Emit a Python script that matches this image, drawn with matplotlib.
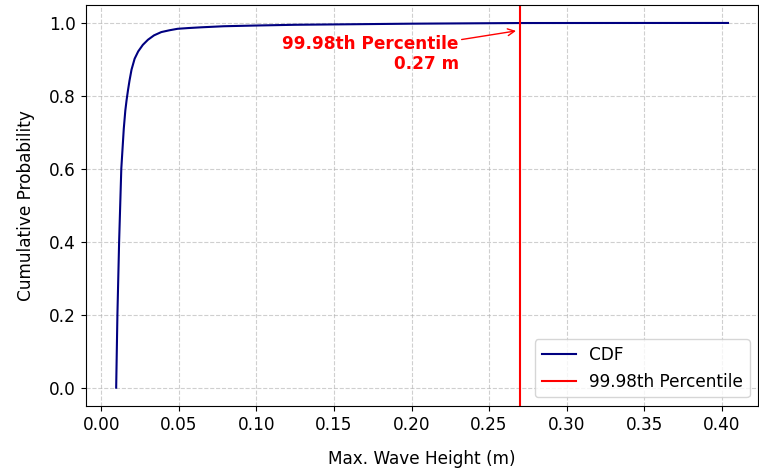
import numpy as np
import matplotlib.pyplot as plt

# CDF points
wave_h = [0.0096, 0.0100, 0.0104, 0.0115, 0.0129, 0.0145, 0.0155, 0.0163, 0.0172,
          0.0182, 0.0195, 0.0215, 0.0238, 0.0268, 0.0301, 0.0340, 0.0387, 0.0440,
          0.0492, 0.0560, 0.0641, 0.0790, 0.1000, 0.1250, 0.1500, 0.2000,
          0.2700, 0.3300, 0.4040]
cdf = [0.0, 0.10, 0.20, 0.40, 0.60, 0.71, 0.76, 0.788, 0.815,
       0.842, 0.872, 0.902, 0.922, 0.940, 0.954, 0.966, 0.975, 0.980,
       0.984, 0.986, 0.988, 0.991, 0.993, 0.995, 0.996, 0.998,
       0.9998, 0.99995, 1.0]
p_label = '99.98th Percentile'
p_value = 0.27

plt.rcParams['font.size'] = 12.2
fig = plt.figure(figsize=(7.59, 4.72), dpi=100)
ax = fig.add_subplot(1, 1, 1)
ax.plot(wave_h, cdf, color='navy', lw=1.5, label='CDF')
ax.axvline(p_value, color='red', lw=1.5, label=p_label)
ax.annotate(f'{p_label}\n{p_value:.2f} m', xy=(p_value, 0.98), xytext=(0.2305, 0.915),
            ha='right', va='center', color='red', fontweight='bold', fontsize=12.2,
            arrowprops=dict(arrowstyle='->', color='red', shrinkA=0, shrinkB=3))
ax.set_xlabel('Max. Wave Height (m)', labelpad=12)
ax.set_ylabel('Cumulative Probability', labelpad=10)
ax.set_xticks(np.arange(0, 0.41, 0.05))
ax.set_xlim(-0.01, 0.4235)
ax.set_ylim(-0.05, 1.05)
ax.grid(True, ls='--', alpha=0.6)
ax.legend(loc='lower right')
plt.subplots_adjust(left=0.113, right=0.999, top=0.99, bottom=0.14)
plt.savefig('out.png')
